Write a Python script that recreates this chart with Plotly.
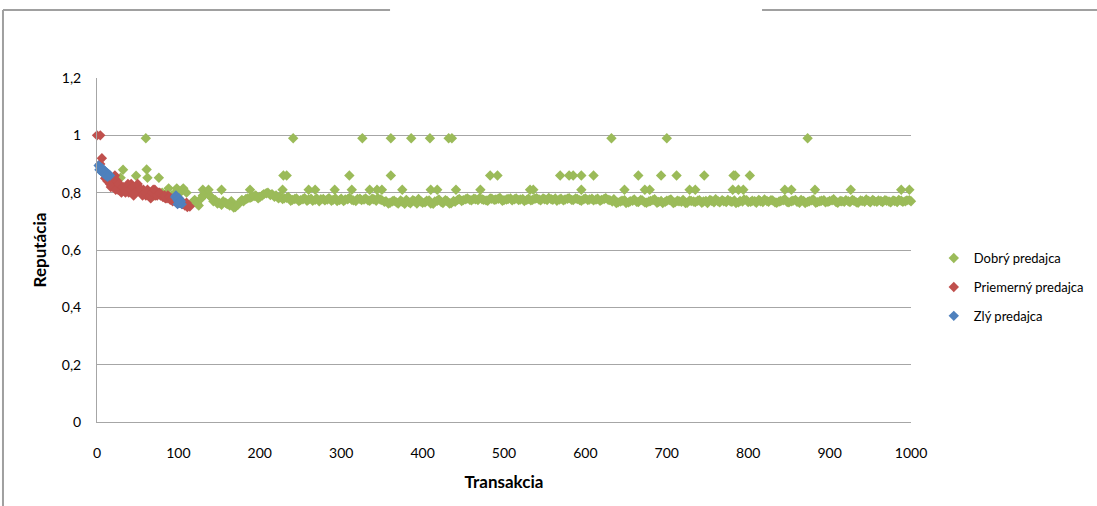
import plotly.graph_objects as go

# --- Dobrý predajca (good seller) -------------------------------------------
# first transactions, before the reputation settles
good_early_x = [12, 18, 24, 29, 32, 36, 42, 48, 54, 60, 61, 62, 66, 70, 76, 80,
                84, 88, 92, 96, 98, 102, 106, 110]
good_early_y = [0.85, 0.83, 0.82, 0.852, 0.88, 0.82, 0.81, 0.859, 0.80, 0.99,
                0.881, 0.852, 0.80, 0.79, 0.852, 0.80, 0.795, 0.815, 0.79, 0.80,
                0.815, 0.80, 0.815, 0.80]

# settled band, transactions 115, 120, ..., 1000
good_band_a_start = 115
good_band_a_y = [
    0.760, 0.775, 0.755, 0.790, 0.800, 0.785, 0.775, 0.765, 0.770, 0.760,   # 115-160
    0.770, 0.750, 0.765, 0.770, 0.780, 0.785, 0.790, 0.785, 0.795, 0.800,   # 165-210
    0.795, 0.790, 0.785, 0.780, 0.785, 0.775, 0.780, 0.774, 0.781, 0.776,   # 215-260
    0.772, 0.780, 0.777, 0.773, 0.781, 0.775, 0.771, 0.779, 0.776, 0.782,   # 265-310
    0.773, 0.778, 0.774, 0.780, 0.772, 0.777, 0.781, 0.774, 0.770, 0.765,   # 315-360
    0.772, 0.762, 0.768, 0.775, 0.763, 0.770, 0.778, 0.765, 0.772, 0.762,   # 365-410
    0.769, 0.776, 0.764, 0.771, 0.763, 0.768, 0.778, 0.774, 0.780, 0.773,   # 415-460
    0.777, 0.781, 0.775, 0.772, 0.779, 0.776, 0.782, 0.774, 0.778, 0.773,   # 465-510
    0.780, 0.776, 0.771, 0.779, 0.775, 0.781, 0.773, 0.777, 0.782, 0.775,   # 515-560
    0.772, 0.779, 0.776, 0.781, 0.774, 0.778, 0.772, 0.780, 0.776, 0.773,   # 565-610
    0.779, 0.775, 0.781, 0.774, 0.777, 0.766, 0.772, 0.764, 0.770, 0.776,   # 615-660
    0.767, 0.773, 0.765, 0.771, 0.777, 0.768, 0.764, 0.772, 0.776, 0.766,   # 665-710
    0.770, 0.775, 0.765, 0.771, 0.767, 0.774, 0.769, 0.764, 0.772, 0.777,   # 715-760
    0.766, 0.770, 0.775, 0.768, 0.764, 0.771, 0.776, 0.767, 0.772, 0.765,   # 765-810
    0.770, 0.776, 0.768, 0.773, 0.765, 0.771, 0.777, 0.766, 0.772, 0.768,   # 815-860
    0.775, 0.764, 0.770, 0.776, 0.767, 0.772, 0.766, 0.771, 0.777, 0.765,   # 865-910
    0.770, 0.774, 0.767, 0.772, 0.765, 0.771, 0.776, 0.766, 0.770, 0.773,   # 915-960
    0.767, 0.772, 0.766, 0.771, 0.775, 0.768, 0.773, 0.770, 0.776           # 965-1000
]
# settled band, transactions 118, 123, ..., 998
good_band_b_start = 118
good_band_b_y = [
    0.768, 0.762, 0.780, 0.795, 0.790, 0.770, 0.762, 0.758, 0.765, 0.755,   # 118-163
    0.748, 0.758, 0.775, 0.778, 0.782, 0.788, 0.780, 0.790, 0.798, 0.792,   # 168-213
    0.786, 0.780, 0.778, 0.782, 0.772, 0.778, 0.771, 0.777, 0.772, 0.779,   # 218-263
    0.775, 0.770, 0.778, 0.776, 0.772, 0.780, 0.774, 0.771, 0.777, 0.775,   # 268-313
    0.771, 0.779, 0.776, 0.773, 0.779, 0.772, 0.776, 0.768, 0.762, 0.770,   # 318-363
    0.766, 0.773, 0.761, 0.767, 0.774, 0.762, 0.769, 0.766, 0.773, 0.761,   # 368-413
    0.772, 0.767, 0.774, 0.762, 0.771, 0.775, 0.771, 0.777, 0.775, 0.779,   # 418-463
    0.774, 0.777, 0.773, 0.780, 0.775, 0.779, 0.772, 0.776, 0.780, 0.777,   # 468-513
    0.774, 0.778, 0.775, 0.773, 0.779, 0.776, 0.780, 0.774, 0.777, 0.780,   # 518-563
    0.776, 0.773, 0.779, 0.775, 0.780, 0.774, 0.777, 0.774, 0.779, 0.776,   # 568-613
    0.772, 0.778, 0.775, 0.769, 0.764, 0.769, 0.774, 0.766, 0.772, 0.768,   # 618-663
    0.775, 0.766, 0.769, 0.774, 0.765, 0.771, 0.768, 0.774, 0.764, 0.772,   # 668-713
    0.768, 0.764, 0.773, 0.769, 0.772, 0.765, 0.771, 0.775, 0.766, 0.770,   # 718-763
    0.774, 0.767, 0.770, 0.773, 0.766, 0.769, 0.774, 0.768, 0.770, 0.775,   # 768-813
    0.767, 0.771, 0.774, 0.766, 0.769, 0.773, 0.767, 0.770, 0.775, 0.765,   # 818-863
    0.771, 0.768, 0.773, 0.765, 0.770, 0.774, 0.768, 0.773, 0.767, 0.771,   # 868-913
    0.768, 0.770, 0.775, 0.766, 0.773, 0.768, 0.771, 0.775, 0.768, 0.771,   # 918-963
    0.774, 0.769, 0.773, 0.767, 0.772, 0.770, 0.774, 0.772                  # 968-1003
]
good_band_a_x = [good_band_a_start + 5 * i for i in range(len(good_band_a_y))]
good_band_b_x = [good_band_b_start + 5 * i for i in range(len(good_band_b_y))]

# occasional jumps of the good seller's reputation
good_high_x = [241, 326, 361, 386, 409, 432, 436, 632, 700, 873]
good_high_y = [0.99] * len(good_high_x)
good_mid_x = [229, 233, 310, 361, 483, 492, 569, 580, 585, 595, 610, 665, 693,
              712, 746, 782, 784, 802]
good_mid_y = [0.86] * len(good_mid_x)
good_low_x = [130, 137, 153, 188, 228, 260, 268, 292, 313, 335, 344, 350, 375,
              410, 418, 441, 471, 532, 536, 595, 648, 673, 679, 728, 735, 781,
              788, 794, 845, 853, 882, 926, 988, 998]
good_low_y = [0.81] * len(good_low_x)

good_x = good_early_x + good_band_a_x + good_band_b_x + good_high_x + good_mid_x + good_low_x
good_y = good_early_y + good_band_a_y + good_band_b_y + good_high_y + good_mid_y + good_low_y

# --- Priemerný predajca (average seller) -------------------------------------
avg_x = [0, 4, 4, 6, 8, 10, 12, 14, 16, 18, 20, 22, 24, 26, 28, 30, 33, 36, 39,
         42, 45, 48, 51, 54, 57, 60, 63, 66, 69, 72, 75, 78, 81, 84, 87, 90, 93,
         96, 99, 102, 105, 108, 111, 114,
         13, 15, 17, 19, 21, 23, 25, 27, 32, 35, 38, 41, 44, 47, 50, 53, 56,
         59, 62, 65, 68, 71, 74, 77, 83, 86, 89, 92, 95, 98, 101, 104, 107, 110]
avg_y = [1.0, 1.0, 0.90, 0.92, 0.87, 0.85, 0.86, 0.84, 0.83, 0.85, 0.82, 0.86,
         0.83, 0.81, 0.82, 0.80, 0.81, 0.82, 0.80, 0.83, 0.79, 0.81, 0.82, 0.80,
         0.81, 0.79, 0.80, 0.78, 0.81, 0.79, 0.80, 0.79, 0.785, 0.78, 0.79,
         0.775, 0.77, 0.78, 0.77, 0.765, 0.76, 0.755, 0.75, 0.752,
         0.84, 0.86, 0.82, 0.84, 0.85, 0.81, 0.84, 0.83, 0.82, 0.80, 0.83, 0.81,
         0.82, 0.80, 0.83, 0.81, 0.79, 0.80, 0.81, 0.79, 0.80, 0.81, 0.79, 0.80,
         0.79, 0.78, 0.785, 0.78, 0.775, 0.765, 0.775, 0.77, 0.76, 0.765]

# --- Zlý predajca (bad seller) -----------------------------------------------
bad_x = [2, 4, 6, 8, 10, 12, 14, 16, 3, 5, 7, 9, 11, 13,
         96, 98, 100, 102, 104, 97, 99, 101, 103, 99, 101]
bad_y = [0.895, 0.89, 0.885, 0.88, 0.875, 0.87, 0.865, 0.86,
         0.88, 0.875, 0.87, 0.865, 0.86, 0.855,
         0.785, 0.78, 0.77, 0.765, 0.76, 0.79, 0.775, 0.78, 0.77, 0.76, 0.765]

GREEN = "#9BBB59"
RED = "#C0504D"
BLUE = "#4F81BD"
GRID = "#A6A6A6"
FONT = "Lato"

fig = go.Figure()
series = [
    ("Dobrý predajca", good_x, good_y, GREEN),
    ("Priemerný predajca", avg_x, avg_y, RED),
    ("Zlý predajca", bad_x, bad_y, BLUE),
]
for name, xs, ys, color in series:
    fig.add_trace(go.Scatter(
        x=xs, y=ys, mode="markers", name=name, legendgroup=name,
        cliponaxis=False,
        marker=dict(symbol="diamond", size=8, color=color, line=dict(width=0)),
    ))

fig.update_layout(
    width=1097, height=506,
    margin=dict(l=97, r=186, t=78, b=84, autoexpand=False),
    paper_bgcolor="white", plot_bgcolor="white",
    separators=", ",
    font=dict(family=FONT, size=14, color="#000000"),
    showlegend=True,
    legend=dict(
        x=1.028, y=0.52, xanchor="left", yanchor="top",
        traceorder="grouped", tracegroupgap=9,
        font=dict(family=FONT, size=13, color="#000000"),
        itemwidth=30,
        bgcolor="rgba(0,0,0,0)",
    ),
    xaxis=dict(
        range=[0, 1000], dtick=100, tick0=0,
        showgrid=False, zeroline=False,
        showline=True, linecolor=GRID, linewidth=1,
        ticks="", ticklabelstandoff=18,
        tickfont=dict(family=FONT, size=14),
        title=dict(text="<b>Transakcia</b>", standoff=16,
                   font=dict(family=FONT, size=17)),
    ),
    yaxis=dict(
        range=[0, 1.2], dtick=0.2, tick0=0,
        showgrid=True, gridcolor=GRID, gridwidth=1,
        zeroline=False,
        showline=True, linecolor=GRID, linewidth=1,
        ticks="", ticklabelstandoff=12,
        tickfont=dict(family=FONT, size=14),
        title=dict(text="<b>Reputácia</b>", standoff=10,
                   font=dict(family=FONT, size=17)),
    ),
)

# chart area frame (top edge interrupted, left edge)
frame = dict(type="line", xref="paper", yref="paper",
             line=dict(color="#A0A0A0", width=2), layer="above")
fig.add_shape(x0=-0.1155, x1=0.36, y0=1.1977, y1=1.1977, **frame)
fig.add_shape(x0=0.817, x1=1.23, y0=1.1977, y1=1.1977, **frame)
fig.add_shape(x0=-0.1155, x1=-0.1155, y0=1.1977, y1=-0.25, **frame)

fig.write_html("out.html")
